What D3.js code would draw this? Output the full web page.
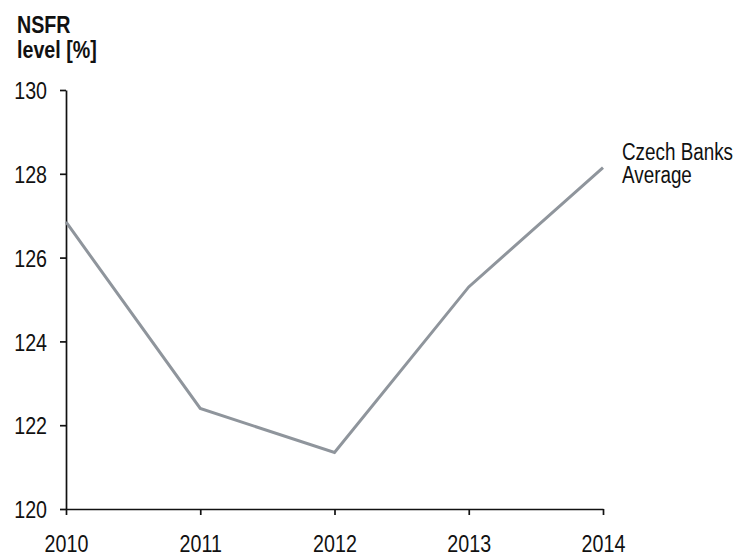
<!DOCTYPE html>
<html>
<head>
<meta charset="utf-8">
<script src="https://cdn.jsdelivr.net/npm/d3@7"></script>
<style>
  body { margin: 0; background: #fff; }
  svg text { font-family: "Liberation Sans", Arial, sans-serif; fill: #111; }
</style>
</head>
<body>
<div id="vis"></div>
<script>
const WIDTH = 741;
const HEIGHT = 558;

// data
const years = [2010, 2011, 2012, 2013, 2014];
const nsfr = [126.85, 122.4, 121.35, 125.3, 128.15];
const yTicks = [120, 122, 124, 126, 128, 130];
const seriesName = ["Czech Banks", "Average"];
const axisTitle = ["NSFR", "level [%]"];

const FONT = 24;
const NARROW = 0.82; // squeeze Liberation Sans to look like Arial Narrow

const FRAME = d3.select("#vis")
  .append("svg")
    .attr("width", WIDTH)
    .attr("height", HEIGHT);

// squeeze text horizontally around its anchor x
function narrow(sel) {
  sel.each(function () {
    const x = +d3.select(this).attr("x") || 0;
    d3.select(this)
      .attr("transform", "translate(" + x + ",0) scale(" + NARROW + ",1) translate(" + (-x) + ",0)");
  });
}

const X_SCALE = d3.scaleLinear()
  .domain([2010, 2014])
  .range([66, 603]);

const Y_SCALE = d3.scaleLinear()
  .domain([120, 130])
  .range([509, 90]);

// y axis
const yAxis = FRAME.append("g")
  .attr("transform", "translate(" + X_SCALE(2010) + ",0)")
  .call(d3.axisLeft(Y_SCALE).tickValues(yTicks).tickSize(6).tickSizeOuter(0).tickPadding(13).tickFormat(d3.format("d")));
yAxis.selectAll("text").attr("font-size", FONT + "px").attr("dy", "0.36em");

// x axis
const xAxis = FRAME.append("g")
  .attr("transform", "translate(0," + Y_SCALE(120) + ")")
  .call(d3.axisBottom(X_SCALE).tickValues(years).tickSize(6).tickSizeOuter(0).tickPadding(20).tickFormat(d3.format("d")));
xAxis.selectAll("text").attr("font-size", FONT + "px");

FRAME.selectAll(".domain, .tick line")
  .attr("stroke", "#111")
  .attr("stroke-width", 1.7);

// line
const line = d3.line()
  .x((d, i) => X_SCALE(years[i]))
  .y((d) => Y_SCALE(d));

FRAME.append("path")
  .datum(nsfr)
  .attr("d", line)
  .attr("fill", "none")
  .attr("stroke", "#8f959c")
  .attr("stroke-width", 3)
  .attr("stroke-linejoin", "miter");

// axis title
FRAME.selectAll(".title")
  .data(axisTitle)
  .enter()
  .append("text")
    .attr("class", "title")
    .attr("x", 17)
    .attr("y", (d, i) => 33 + i * 25)
    .attr("font-size", FONT + "px")
    .attr("font-weight", "bold")
    .text((d) => d);

// series label
FRAME.selectAll(".series")
  .data(seriesName)
  .enter()
  .append("text")
    .attr("class", "series")
    .attr("x", 622)
    .attr("y", (d, i) => 160 + i * 23)
    .attr("font-size", "23px")
    .text((d) => d);

narrow(FRAME.selectAll("text"));
</script>
</body>
</html>
